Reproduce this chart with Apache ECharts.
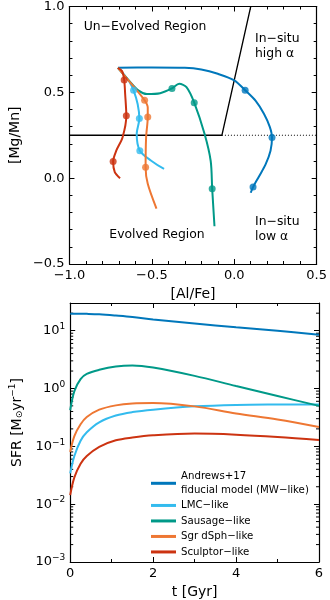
<!DOCTYPE html>
<html>
<head>
<meta charset="utf-8">
<script src="https://cdn.jsdelivr.net/npm/echarts@6/dist/echarts.min.js"></script>
<style>
  html, body { margin: 0; padding: 0; background: #fff; }
  #chart { width: 330px; height: 600px; }
</style>
</head>
<body>
<div id="chart"></div>
<script>
// top panel: tracks in [Al/Fe] vs [Mg/Mn]
const mwTrack = [[-0.706, 0.643], [-0.5, 0.645], [-0.3, 0.643], [-0.2, 0.633], [-0.1, 0.608], [0.0, 0.57], [0.066, 0.512], [0.13, 0.45], [0.18, 0.375], [0.215, 0.30], [0.229, 0.237], [0.22, 0.16], [0.19, 0.08], [0.15, 0.01], [0.114, -0.052], [0.10, -0.085]]
const mwDots = [[0.066, 0.512], [0.229, 0.237], [0.114, -0.052]]
const lmcTrack = [[-0.706, 0.643], [-0.67, 0.605], [-0.639, 0.566], [-0.611, 0.512], [-0.586, 0.431], [-0.576, 0.347], [-0.592, 0.257], [-0.573, 0.16], [-0.506, 0.103], [-0.426, 0.054]]
const lmcDots = [[-0.611, 0.512], [-0.576, 0.347], [-0.573, 0.16]]
const sausageTrack = [[-0.706, 0.643], [-0.64, 0.57], [-0.58, 0.51], [-0.53, 0.49], [-0.45, 0.495], [-0.378, 0.523], [-0.334, 0.55], [-0.29, 0.53], [-0.243, 0.44], [-0.18, 0.257], [-0.143, 0.10], [-0.134, -0.061], [-0.12, -0.28]]
const sausageDots = [[-0.378, 0.523], [-0.243, 0.44], [-0.134, -0.061]]
const sgrTrack = [[-0.706, 0.643], [-0.62, 0.545], [-0.544, 0.454], [-0.525, 0.411], [-0.525, 0.357], [-0.535, 0.237], [-0.538, 0.064], [-0.525, -0.033], [-0.472, -0.177]]
const sgrDots = [[-0.544, 0.454], [-0.525, 0.357], [-0.538, 0.064]]
const sculptorTrack = [[-0.706, 0.643], [-0.681, 0.624], [-0.668, 0.572], [-0.662, 0.489], [-0.655, 0.363], [-0.678, 0.237], [-0.716, 0.16], [-0.735, 0.097], [-0.725, 0.035], [-0.693, 0.0]]
const sculptorDots = [[-0.668, 0.572], [-0.655, 0.363], [-0.735, 0.097]]
// region boundary
const boundarySolid = [[-1.0, 0.25], [-0.075, 0.25], [0.10, 1.0]]
const boundaryDotted = [[-0.075, 0.25], [0.5, 0.25]]

// bottom panel: star formation histories
const tGyr = [0, 0.1, 0.25, 0.4, 0.7, 1.1, 1.5, 2, 3, 4, 5, 6]
const sfrMW = [19.5, 19.6, 19.6, 19.5, 19.1, 18.2, 17.2, 15.6, 13.3, 11.4, 9.9, 8.5]
const sfrLMC = [0.034, 0.068, 0.125, 0.175, 0.26, 0.34, 0.39, 0.43, 0.49, 0.52, 0.528, 0.53]
const sfrSausage = [0.42, 0.9, 1.45, 1.78, 2.1, 2.4, 2.5, 2.3, 1.65, 1.1, 0.74, 0.5]
const sfrSgr = [0.08, 0.15, 0.24, 0.32, 0.43, 0.51, 0.55, 0.56, 0.49, 0.37, 0.29, 0.215]
const sfrSculptor = [0.0143, 0.029, 0.05, 0.068, 0.098, 0.127, 0.142, 0.155, 0.166, 0.159, 0.145, 0.128]

const names = ['Andrews+17\nfiducial model (MW−like)', 'LMC−like', 'Sausage−like', 'Sgr dSph−like', 'Sculptor−like']
const colors = ['#0077BB', '#33BBEE', '#009988', '#EE7733', '#CC3311']

const FONT = 'DejaVu Sans'
const minus = s => String(s).replace('-', '−')

// minor ticks of the log axis (2..9 x 10^k)
const logMinor = []
for (let k = -3; k <= 1; k++) {
  for (let m = 2; m <= 9; m++) {
    const v = m * Math.pow(10, k)
    if (v < 30) logMinor.push([0, v])
  }
}

const chart = echarts.init(document.getElementById('chart'))

function frameAxis(extra, minorSplit) {
  return Object.assign({
    axisLine: { show: true, onZero: false, lineStyle: { color: '#000', width: 1.2 } },
    axisTick: { show: true, inside: true, length: 5, lineStyle: { color: '#000', width: 1 } },
    minorTick: { show: !!minorSplit, splitNumber: minorSplit || 5, length: 3, lineStyle: { color: '#000', width: 1 } },
    splitLine: { show: false },
    axisLabel: { show: false }
  }, extra)
}

const tickLabel = { show: true, color: '#000', fontSize: 13, fontFamily: FONT, margin: 5 }
const nameStyle = { color: '#000', fontSize: 14, fontFamily: FONT }

function track(data, color) {
  return { type: 'line', xAxisIndex: 0, yAxisIndex: 0, data: data, smooth: 0.3, showSymbol: false,
    lineStyle: { color: color, width: 2 }, z: 3 }
}
function dots(data, color) {
  return { type: 'scatter', xAxisIndex: 0, yAxisIndex: 0, data: data, symbolSize: 7,
    itemStyle: { color: color }, z: 4 }
}
function sfr(name, values, color) {
  return { type: 'line', name: name, xAxisIndex: 2, yAxisIndex: 2,
    data: tGyr.map((t, i) => [t, values[i]]), smooth: 0.35, showSymbol: false,
    lineStyle: { color: color, width: 2 }, itemStyle: { color: color } }
}

function logLabel(v) {
  const e = Math.log10(v)
  if (Math.abs(e - Math.round(e)) > 1e-6) return ''
  return '{b|10}{s|' + minus(Math.round(e)) + '}'
}

chart.setOption({
  animation: false,
  textStyle: { fontFamily: FONT },
  grid: [
    { left: 57, top: 5, width: 262, height: 259 },
    { left: 57, top: 303, width: 262, height: 259 }
  ],
  xAxis: [
    frameAxis({ gridIndex: 0, type: 'value', min: -1.0, max: 0.5, interval: 0.5,
      axisLabel: Object.assign({}, tickLabel, { formatter: v => minus(v.toFixed(1)) }),
      name: '[Al/Fe]', nameLocation: 'middle', nameGap: 23, nameTextStyle: nameStyle }, 5),
    frameAxis({ gridIndex: 0, type: 'value', position: 'top', min: -1.0, max: 0.5, interval: 0.5 }, 5),
    frameAxis({ gridIndex: 1, type: 'value', min: 0, max: 6, interval: 2,
      axisLabel: Object.assign({}, tickLabel),
      name: 't [Gyr]', nameLocation: 'middle', nameGap: 23, nameTextStyle: nameStyle }, 2),
    frameAxis({ gridIndex: 1, type: 'value', position: 'top', min: 0, max: 6, interval: 2 }, 2)
  ],
  yAxis: [
    frameAxis({ gridIndex: 0, type: 'value', min: -0.5, max: 1.0, interval: 0.5,
      axisLabel: Object.assign({}, tickLabel, { formatter: v => minus(v.toFixed(1)) }),
      name: '[Mg/Mn]', nameLocation: 'middle', nameGap: 41, nameRotate: 90, nameTextStyle: nameStyle }, 5),
    frameAxis({ gridIndex: 0, type: 'value', position: 'right', min: -0.5, max: 1.0, interval: 0.5 }, 5),
    frameAxis({ gridIndex: 1, type: 'log', logBase: 10, min: 0.001, max: 30,
      axisLabel: Object.assign({}, tickLabel, {
        formatter: logLabel,
        rich: { b: { fontSize: 13, fontFamily: FONT, color: '#000' }, s: { fontSize: 9, fontFamily: FONT, color: '#000', padding: [0, 0, 8, 0] } }
      }),
      name: '{a|SFR [M}{o|⊙}{a|yr}{s|−1}{a|]}', nameLocation: 'middle', nameGap: 41, nameRotate: 90,
      nameTextStyle: Object.assign({}, nameStyle, { padding: [0, 0, 0, 20], rich: {
        a: { fontSize: 14, fontFamily: FONT, color: '#000' },
        o: { fontSize: 9, fontFamily: FONT, color: '#000', padding: [6, 0, 0, 0] },
        s: { fontSize: 9, fontFamily: FONT, color: '#000', padding: [0, 0, 9, 0] }
      } }) }),
    frameAxis({ gridIndex: 1, type: 'log', logBase: 10, position: 'right', min: 0.001, max: 30 })
  ],
  legend: {
    data: names,
    orient: 'vertical',
    left: 146,
    top: 465,
    itemWidth: 25,
    itemHeight: 3,
    itemGap: 2.2,
    icon: 'rect',
    textStyle: { fontSize: 10.2, fontFamily: FONT, color: '#000', lineHeight: 13.3 }
  },
  graphic: [
    { type: 'text', style: { text: 'Un−Evolved Region', x: 145, y: 27, fill: '#000', font: '12.4px "DejaVu Sans"', textAlign: 'center', textVerticalAlign: 'middle' } },
    { type: 'text', style: { text: 'In−situ\nhigh α', x: 255, y: 31, fill: '#000', font: '12.4px "DejaVu Sans"', lineHeight: 15 } },
    { type: 'text', style: { text: 'Evolved Region', x: 157, y: 235, fill: '#000', font: '12.4px "DejaVu Sans"', textAlign: 'center', textVerticalAlign: 'middle' } },
    { type: 'text', style: { text: 'In−situ\nlow α', x: 255, y: 214, fill: '#000', font: '12.4px "DejaVu Sans"', lineHeight: 15 } }
  ],
  series: [
    { type: 'line', xAxisIndex: 0, yAxisIndex: 0, data: boundarySolid, showSymbol: false, lineStyle: { color: '#000', width: 1.3 }, z: 2 },
    { type: 'line', xAxisIndex: 0, yAxisIndex: 0, data: boundaryDotted, showSymbol: false, lineStyle: { color: '#000', width: 1.2, type: [1, 2] }, z: 2 },
    track(mwTrack, colors[0]), dots(mwDots, colors[0]),
    track(lmcTrack, colors[1]), dots(lmcDots, colors[1]),
    track(sausageTrack, colors[2]), dots(sausageDots, colors[2]),
    track(sgrTrack, colors[3]), dots(sgrDots, colors[3]),
    track(sculptorTrack, colors[4]), dots(sculptorDots, colors[4]),
    sfr(names[0], sfrMW, colors[0]),
    sfr(names[1], sfrLMC, colors[1]),
    sfr(names[2], sfrSausage, colors[2]),
    sfr(names[3], sfrSgr, colors[3]),
    sfr(names[4], sfrSculptor, colors[4]),
    {
      type: 'custom', xAxisIndex: 2, yAxisIndex: 2, data: logMinor, silent: true,
      encode: { x: 0, y: 1 },
      renderItem: function(params, api) {
        const v = api.value(1)
        const l = api.coord([0, v])
        const r = api.coord([6, v])
        return { type: 'group', children: [
          { type: 'line', shape: { x1: l[0], y1: l[1], x2: l[0] + 3, y2: l[1] }, style: { stroke: '#000', lineWidth: 1 } },
          { type: 'line', shape: { x1: r[0] - 3, y1: r[1], x2: r[0], y2: r[1] }, style: { stroke: '#000', lineWidth: 1 } }
        ] }
      }
    }
  ]
})
</script>
</body>
</html>
